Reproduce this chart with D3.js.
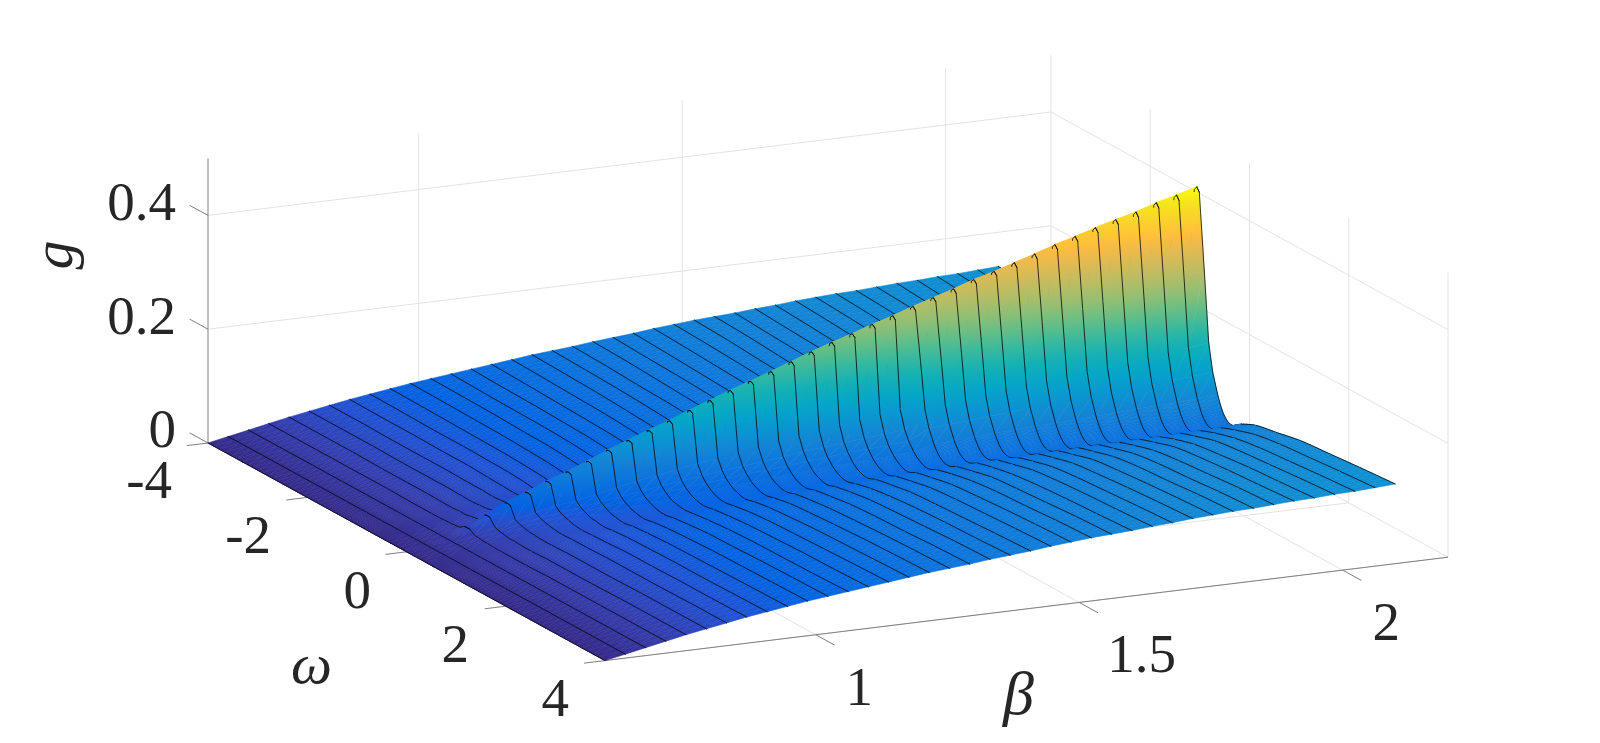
<!DOCTYPE html>
<meta charset="utf-8">
<style>
html, body { margin: 0; background: #fff; }
svg { display: block; }
text { font-family: "Liberation Serif", "Times New Roman", serif; fill: #262626; }
</style>
<svg width="1600" height="743"></svg>
<script src="https://d3js.org/d3.v7.min.js"></script>
<script>

// one row per beta, one value per |omega| knot (the surface is symmetric in omega)
var betas = [0.6, 0.6385, 0.6769, 0.7154, 0.7538, 0.7923, 0.8308, 0.8692, 0.9077, 0.9462,
  0.9846, 1.0231, 1.0615, 1.1, 1.1385, 1.1769, 1.2154, 1.2538, 1.2923, 1.3308,
  1.3692, 1.4077, 1.4462, 1.4846, 1.5231, 1.5615, 1.6, 1.6385, 1.6769, 1.7154,
  1.7538, 1.7923, 1.8308, 1.8692, 1.9077, 1.9462, 1.9846, 2.0231, 2.0615, 2.1];

var omegaKnots = [0, 0.05, 0.15, 0.24, 0.32, 0.42, 0.55, 0.7, 0.9, 1.2, 1.6, 2.1, 2.7, 3.3, 4];

var gRows = [
  [0, 0, 0, 0, 0, 0, 0, 0, 0, 0, 0, 0, 0, 0, 0],
  [.007, .007, .007, .007, .007, .007, .007, .007, .007, .007, .007, .007, .007, .007, .007],
  [.014, .014, .014, .014, .014, .014, .014, .014, .014, .014, .014, .014, .014, .014, .014],
  [.029, .029, .023, .022, .021, .021, .020, .020, .020, .020, .021, .021, .021, .021, .021],
  [.046, .045, .033, .030, .029, .027, .027, .026, .026, .027, .027, .027, .028, .028, .028],
  [.063, .062, .042, .038, .036, .034, .033, .032, .032, .033, .033, .033, .034, .034, .034],
  [.077, .076, .050, .045, .042, .040, .038, .037, .038, .038, .039, .039, .039, .040, .040],
  [.092, .091, .057, .050, .047, .044, .041, .040, .041, .042, .044, .044, .045, .045, .046],
  [.105, .103, .063, .055, .051, .047, .045, .043, .045, .047, .048, .049, .049, .050, .051],
  [.119, .117, .069, .060, .055, .050, .047, .045, .048, .050, .052, .053, .054, .055, .056],
  [.134, .132, .076, .065, .059, .054, .050, .048, .051, .054, .056, .058, .059, .060, .061],
  [.147, .145, .083, .070, .063, .058, .053, .051, .054, .057, .060, .061, .063, .064, .065],
  [.160, .158, .089, .075, .068, .061, .057, .055, .057, .060, .063, .065, .066, .067, .069],
  [.173, .170, .095, .079, .071, .064, .059, .057, .060, .063, .066, .068, .070, .071, .073],
  [.187, .184, .101, .084, .075, .067, .061, .059, .062, .066, .069, .071, .073, .075, .077],
  [.200, .197, .106, .088, .078, .070, .064, .061, .065, .069, .072, .075, .077, .079, .081],
  [.213, .210, .112, .092, .082, .073, .066, .063, .067, .072, .075, .078, .081, .083, .085],
  [.225, .222, .117, .096, .085, .075, .068, .065, .070, .074, .078, .081, .084, .086, .088],
  [.238, .234, .123, .100, .088, .078, .070, .067, .072, .076, .081, .084, .086, .089, .091],
  [.251, .247, .128, .105, .092, .081, .073, .069, .074, .079, .084, .087, .090, .093, .095],
  [.264, .260, .133, .108, .094, .083, .074, .070, .075, .081, .086, .090, .093, .095, .098],
  [.276, .272, .139, .112, .098, .085, .076, .072, .078, .083, .089, .092, .095, .098, .101],
  [.287, .283, .143, .115, .100, .087, .077, .073, .079, .085, .092, .096, .099, .102, .105],
  [.299, .295, .148, .118, .102, .089, .079, .074, .081, .087, .094, .098, .102, .105, .108],
  [.310, .305, .152, .121, .105, .091, .080, .075, .082, .089, .096, .101, .104, .108, .111],
  [.322, .317, .232, .152, .123, .100, .082, .076, .083, .090, .098, .102, .106, .110, .113],
  [.333, .328, .239, .156, .126, .102, .083, .077, .085, .092, .099, .104, .108, .111, .115],
  [.344, .339, .246, .160, .128, .104, .084, .078, .086, .093, .102, .107, .111, .114, .118],
  [.356, .351, .254, .164, .131, .106, .085, .078, .086, .094, .103, .108, .112, .116, .120],
  [.366, .361, .261, .168, .134, .108, .086, .079, .088, .096, .105, .110, .115, .119, .123],
  [.377, .371, .268, .172, .137, .110, .087, .080, .089, .097, .107, .112, .117, .121, .125],
  [.388, .382, .276, .176, .139, .111, .088, .080, .090, .098, .108, .114, .118, .123, .127],
  [.400, .394, .283, .180, .142, .113, .089, .081, .091, .099, .109, .115, .119, .124, .128],
  [.410, .404, .290, .184, .144, .114, .089, .081, .091, .100, .110, .116, .121, .126, .130],
  [.421, .415, .298, .188, .147, .116, .091, .082, .092, .101, .112, .118, .123, .127, .132],
  [.431, .425, .304, .192, .150, .118, .091, .082, .092, .102, .112, .118, .124, .128, .133],
  [.440, .433, .311, .196, .153, .120, .092, .083, .094, .103, .114, .120, .125, .130, .135],
  [.452, .445, .318, .200, .155, .121, .093, .083, .094, .104, .114, .121, .126, .131, .136],
  [.461, .454, .325, .204, .158, .123, .094, .084, .095, .105, .116, .123, .128, .133, .138],
  [.471, .464, .332, .208, .161, .126, .096, .086, .097, .109, .116, .125, .130, .135, .140]
];

var gTicks = [0, 0.2, 0.4];
var omegaTicks = [-4, -2, 0, 2, 4];
var betaTicks = [1, 1.5, 2];

// parula
var parula = ["#352a87", "#353dad", "#2053d4", "#0363e1", "#0d75dc", "#1485d4", "#0998d1", "#06a7c6", "#15b1b4",
  "#38b99e", "#65be86", "#92bf73", "#b7bd64", "#d9ba56", "#f8bb44", "#ffc337", "#fad32a", "#f5e41d", "#f9fb0e"];
var parulaAt = [0, 3, 6, 8, 12, 16, 20, 24, 28, 32, 36, 40, 44, 48, 52, 54, 57, 60, 63];

var svg = d3.select("svg");
var defs = svg.append("defs");

// the 3d view is orthographic, so each data axis adds a fixed screen offset
var omegaX = d3.scaleLinear().domain([-4, 4]).range([0, 397]),
    omegaY = d3.scaleLinear().domain([-4, 4]).range([0, 217.6]),
    betaX = d3.scaleLinear().domain([0.6, 2.2]).range([0, 843]),
    betaY = d3.scaleLinear().domain([0.6, 2.2]).range([0, -103.4]),
    gY = d3.scaleLinear().domain([0, 0.5]).range([0, -284.5]);

var colorStops = parulaAt.map(function(d) { return d / 63 * 0.471; });
var color = d3.scaleLinear().domain(colorStops).range(parula).clamp(true);

function px(w, b, g) {
  return [208 + omegaX(w) + betaX(b), 443 + omegaY(w) + betaY(b) + gY(g)];
}

function seg(g, p, q) {
  g.append("line")
      .attr("x1", p[0]).attr("y1", p[1])
      .attr("x2", q[0]).attr("y2", q[1]);
}

// walls and floor grid
var grid = svg.append("g").attr("fill", "none").attr("stroke", "#e3e3e3").attr("stroke-width", 1);
gTicks.forEach(function(z) {
  seg(grid, px(-4, 0.6, z), px(-4, 2.2, z));
  seg(grid, px(-4, 2.2, z), px(4, 2.2, z));
});
betaTicks.forEach(function(b) {
  seg(grid, px(-4, b, 0), px(-4, b, 0.5));
  seg(grid, px(-4, b, 0), px(4, b, 0));
});
omegaTicks.forEach(function(w) {
  seg(grid, px(w, 2.2, 0), px(w, 2.2, 0.5));
  seg(grid, px(w, 0.6, 0), px(w, 2.2, 0));
});

// axis lines and ticks
var axes = svg.append("g").attr("stroke", "#808080").attr("stroke-width", 1);
seg(axes, px(-4, 0.6, 0), px(-4, 0.6, 0.5));
seg(axes, px(-4, 0.6, 0), px(4, 0.6, 0));
seg(axes, px(4, 0.6, 0), px(4, 2.2, 0));
gTicks.forEach(function(z) { seg(axes, px(-4, 0.6, z), px(-4.37, 0.6, z)); });
omegaTicks.forEach(function(w) { seg(axes, px(w, 0.6, 0), px(w, 0.56, 0)); });
betaTicks.forEach(function(b) { seg(axes, px(4, b, 0), px(4.38, b, 0)); });

// mirror the knots so the rows run from omega = -4 to omega = 4
var omegaFull = omegaKnots.slice(1).reverse().map(function(d) { return -d; }).concat(omegaKnots);
var gFull = gRows.map(function(r) { return r.slice(1).reverse().concat(r); });
var last = omegaFull.length - 1;

// the tails away from the ridge are drawn as a smooth curve through the knots,
// the ridge keeps its hard corners
function isTail(i) { return Math.abs(omegaFull[i]) >= 0.42 && Math.abs(omegaFull[i + 1]) >= 0.42; }

function slope(r, j) {
  var a = Math.max(0, j - 1), b = Math.min(last, j + 1);
  return (r[b] - r[a]) / (omegaFull[b] - omegaFull[a]);
}

function gAt(k, i, s) {
  var r = gFull[k];
  if (!isTail(i)) return r[i] + s * (r[i + 1] - r[i]);
  var d = omegaFull[i + 1] - omegaFull[i], s2 = s * s, s3 = s2 * s;
  return (2 * s3 - 3 * s2 + 1) * r[i] + (s3 - 2 * s2 + s) * d * slope(r, i) +
      (-2 * s3 + 3 * s2) * r[i + 1] + (s3 - s2) * d * slope(r, i + 1);
}

function wAt(i, s) { return omegaFull[i] + s * (omegaFull[i + 1] - omegaFull[i]); }

var surf = svg.append("g").attr("stroke-width", 0.6).attr("stroke-linejoin", "round");
var gradId = 0;

// a flat triangle has a straight colour ramp, so one linear gradient shades it exactly
function tri(v) {
  var a = v[0], b = v[1], c = v[2],
      det = (b.x - a.x) * (c.y - a.y) - (c.x - a.x) * (b.y - a.y),
      lo = d3.min(v, function(d) { return d.g; }),
      hi = d3.max(v, function(d) { return d.g; }),
      paint;
  if (Math.abs(det) < 1e-3 || hi - lo < 1e-5) {
    paint = color((lo + hi) / 2);
  } else {
    var gx = ((b.g - a.g) * (c.y - a.y) - (c.g - a.g) * (b.y - a.y)) / det,
        gy = ((c.g - a.g) * (b.x - a.x) - (b.g - a.g) * (c.x - a.x)) / det,
        n2 = gx * gx + gy * gy,
        start = v.filter(function(d) { return d.g === lo; })[0],
        id = "ramp" + (gradId++);
    var grad = defs.append("linearGradient").attr("id", id)
        .attr("gradientUnits", "userSpaceOnUse")
        .attr("x1", start.x.toFixed(2)).attr("y1", start.y.toFixed(2))
        .attr("x2", (start.x + gx * (hi - lo) / n2).toFixed(2))
        .attr("y2", (start.y + gy * (hi - lo) / n2).toFixed(2));
    var stops = [lo].concat(colorStops.filter(function(d) { return d > lo && d < hi; }), [hi]);
    stops.forEach(function(d) {
      grad.append("stop").attr("offset", ((d - lo) / (hi - lo)).toFixed(4)).attr("stop-color", color(d));
    });
    paint = "url(#" + id + ")";
  }
  surf.append("path")
      .attr("d", "M" + v.map(function(d) { return d.x.toFixed(2) + "," + d.y.toFixed(2); }).join("L") + "Z")
      .attr("fill", paint)
      .attr("stroke", paint);
}

function vert(i, s, k) {
  var g = gAt(k, i, s), p = px(wAt(i, s), betas[k], g);
  return {x: p[0], y: p[1], g: g};
}

function cell(i, k, n) {
  for (var a = 0; a < n; a++) {
    var p00 = vert(i, a / n, k - 1), p10 = vert(i, (a + 1) / n, k - 1),
        p01 = vert(i, a / n, k), p11 = vert(i, (a + 1) / n, k);
    tri([p01, p11, p10]);
    tri([p01, p10, p00]);
  }
}

var meshLine = d3.line();

function meshPath(pts) {
  surf.append("path")
      .attr("d", meshLine(pts))
      .attr("fill", "none")
      .attr("stroke", "#000").attr("stroke-width", 0.95).attr("stroke-opacity", 0.8)
      .attr("stroke-linecap", "round");
}

function mesh(i, k, n) {
  meshPath(d3.range(n + 1).map(function(a) { return px(wAt(i, a / n), betas[k], gAt(k, i, a / n)); }));
}

// painter's order: far to near means omega going up and beta going down
for (var i = 0; i < last; i++) {
  var n = isTail(i) ? 6 : 1;
  for (var k = betas.length - 1; k >= 1; k--) {
    cell(i, k, n);
    mesh(i, k, n);
  }
  mesh(i, 0, n);
}

// small hooks on top of the ridge, drawn last so the front of the ridge does not hide them
var top0 = omegaKnots.length - 1;
betas.forEach(function(b, k) {
  if (k < 3) return;
  meshPath([0.97, 1].map(function(s) { return px(wAt(top0 - 2, s), b, gAt(k, top0 - 2, s)); })
      .concat([px(omegaFull[top0], b, gFull[k][top0]), px(omegaFull[top0 + 1], b, gFull[k][top0 + 1])]));
});

// labels
var labels = [
  {t: "0.4", x: 176, y: 220},
  {t: "0.2", x: 176, y: 334},
  {t: "0", x: 176, y: 447},
  {t: "-4", x: 172, y: 498},
  {t: "-2", x: 271, y: 553},
  {t: "0", x: 371, y: 608},
  {t: "2", x: 469, y: 662},
  {t: "4", x: 569, y: 716},
  {t: "1", x: 873, y: 705},
  {t: "1.5", x: 1176, y: 672},
  {t: "2", x: 1400, y: 640}
];
svg.append("g").selectAll("text").data(labels).enter().append("text")
    .attr("x", function(d) { return d.x; })
    .attr("y", function(d) { return d.y; })
    .attr("text-anchor", "end")
    .style("font-size", "55px")
    .text(function(d) { return d.t; });

svg.append("text").attr("x", 291).attr("y", 683).style("font-size", "58px").style("font-style", "italic").text("ω");
svg.append("text").attr("x", 1003).attr("y", 714).style("font-size", "62px").style("font-style", "italic").text("β");
svg.append("text").attr("transform", "translate(72,255) rotate(-90)").attr("text-anchor", "middle")
    .style("font-size", "58px").style("font-style", "italic").text("g");

</script>
